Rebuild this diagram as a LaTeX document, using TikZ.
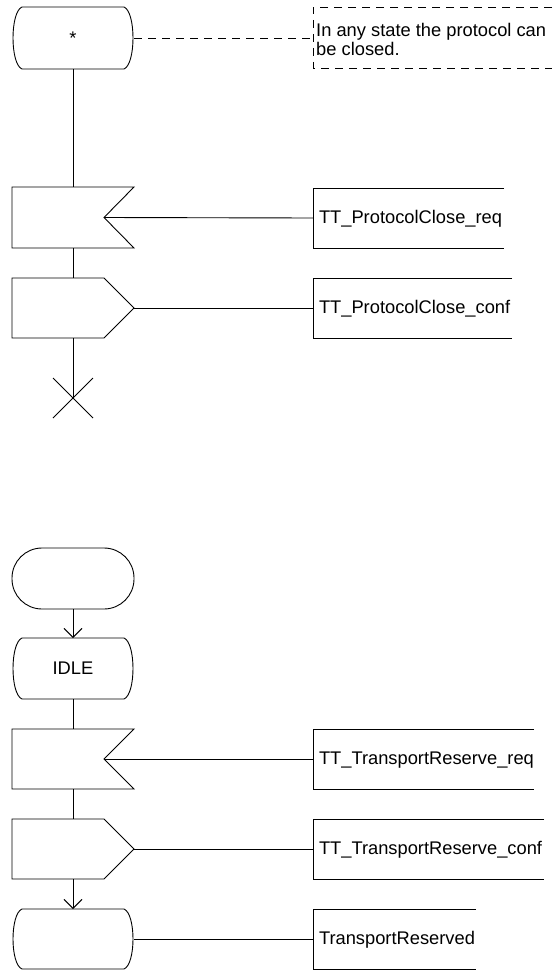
\documentclass[tikz,border=0pt]{standalone}
\usepackage{fontspec}
\setmainfont{Liberation Sans}
\usetikzlibrary{calc,arrows.meta}
\tikzset{
  ln/.style={line width=0.9pt, draw=black},
  sym/.style={inner sep=0pt, outer sep=0pt, minimum width=122pt, minimum height=#1, font=\fontsize{18.3}{20}\selectfont},
  sig/.style={anchor=west, inner xsep=6pt, inner ysep=0pt, outer sep=0pt, minimum height=60pt, text width=#1, align=left, text height=14pt, text depth=4pt, font=\fontsize{18.3}{20}\selectfont},
  flow/.style={ln, -{Straight Barb[length=9pt, width=18pt, line width=0.9pt]}},
  cmt/.style={ln, dash pattern=on 8pt off 6pt}
}
\newcommand{\drawstate}[1]{%
  \draw[ln] ($(#1.north west)+(10,0)$) -- ($(#1.north east)+(-10,0)$)
    .. controls ($(#1.north east)+(2,5)$) and ($(#1.south east)+(2,-5)$) .. ($(#1.south east)+(-10,0)$)
    -- ($(#1.south west)+(10,0)$)
    .. controls ($(#1.south west)+(-2,-5)$) and ($(#1.north west)+(-2,5)$) .. cycle;}
\newcommand{\drawinput}[1]{%
  \draw[ln] (#1.north west) -- (#1.north east) -- ($(#1.east)+(-30,0)$) -- (#1.south east) -- (#1.south west) -- cycle;}
\newcommand{\drawoutput}[1]{%
  \draw[ln] (#1.north west) -- ($(#1.north east)+(-30,0)$) -- (#1.east) -- ($(#1.south east)+(-30,0)$) -- (#1.south west) -- cycle;}
\newcommand{\drawsig}[1]{%
  \draw[ln] (#1.north east) -- (#1.north west) -- (#1.south west) -- (#1.south east);}
\begin{document}
\begin{tikzpicture}[x=1pt, y=-1pt]
\useasboundingbox (0,0) rectangle (552,971);

% ---------- upper diagram ----------
\node[sym=62pt] (s1) at (73,38) {*};
\drawstate{s1}

\coordinate (cm) at (313,38);
\draw[cmt] (552,7) -- (313,7) -- (313,68) -- (552,68);
\node[anchor=north west, inner sep=0pt, align=left, font=\fontsize{18.3}{19}\selectfont] (cmtext) at (316,22.6)
  {In any state the protocol can\\be closed.};
\draw[cmt] (s1.east) -- (cm);

\node[sym=61pt] (in1) at (73,217.5) {};
\drawinput{in1}
\coordinate (in1tip) at ($(in1.east)+(-30,0)$);
\node[sig=179pt] (sig1) at (313,218) {TT\_ProtocolClose\_req};
\drawsig{sig1}
\draw[ln] (in1tip) -- (sig1.west);

\node[sym=60pt] (out1) at (73,308) {};
\drawoutput{out1}
\node[sig=187pt] (sig2) at (313,308) {TT\_ProtocolClose\_conf};
\drawsig{sig2}
\draw[ln] (out1.east) -- (sig2.west);

\coordinate (stop1) at (73,398);
\draw[ln] (stop1) ++(-20,-20) -- ++(40,40);
\draw[ln] (stop1) ++(20,-20) -- ++(-40,40);

\draw[ln] (s1.south) -- (in1.north);
\draw[ln] (in1.south) -- (out1.north);
\draw[ln] (out1.south) -- (stop1);

% ---------- lower diagram ----------
\node[sym=61pt] (st) at (73,578.5) {};
\draw[ln, rounded corners=30pt] (st.north west) rectangle (st.south east);

\node[sym=61pt] (idle) at (73,668.5) {IDLE};
\drawstate{idle}

\node[sym=60pt] (in2) at (73,759) {};
\drawinput{in2}
\coordinate (in2tip) at ($(in2.east)+(-30,0)$);
\node[sig=209pt] (sig3) at (313,759) {TT\_TransportReserve\_req};
\drawsig{sig3}
\draw[ln] (in2tip) -- (sig3.west);

\node[sym=60pt] (out2) at (73,849) {};
\drawoutput{out2}
\node[sig=219pt] (sig4) at (313,849) {TT\_TransportReserve\_conf};
\drawsig{sig4}
\draw[ln] (out2.east) -- (sig4.west);

\node[sym=60pt] (s3) at (73,939) {};
\drawstate{s3}
\node[sig=151pt] (sig5) at (313,939) {TransportReserved};
\drawsig{sig5}
\draw[ln] (s3.east) -- (sig5.west);

\draw[flow] (st.south) -- (idle.north);
\draw[ln] (idle.south) -- (in2.north);
\draw[ln] (in2.south) -- (out2.north);
\draw[flow] (out2.south) -- (s3.north);
\end{tikzpicture}
\end{document}
